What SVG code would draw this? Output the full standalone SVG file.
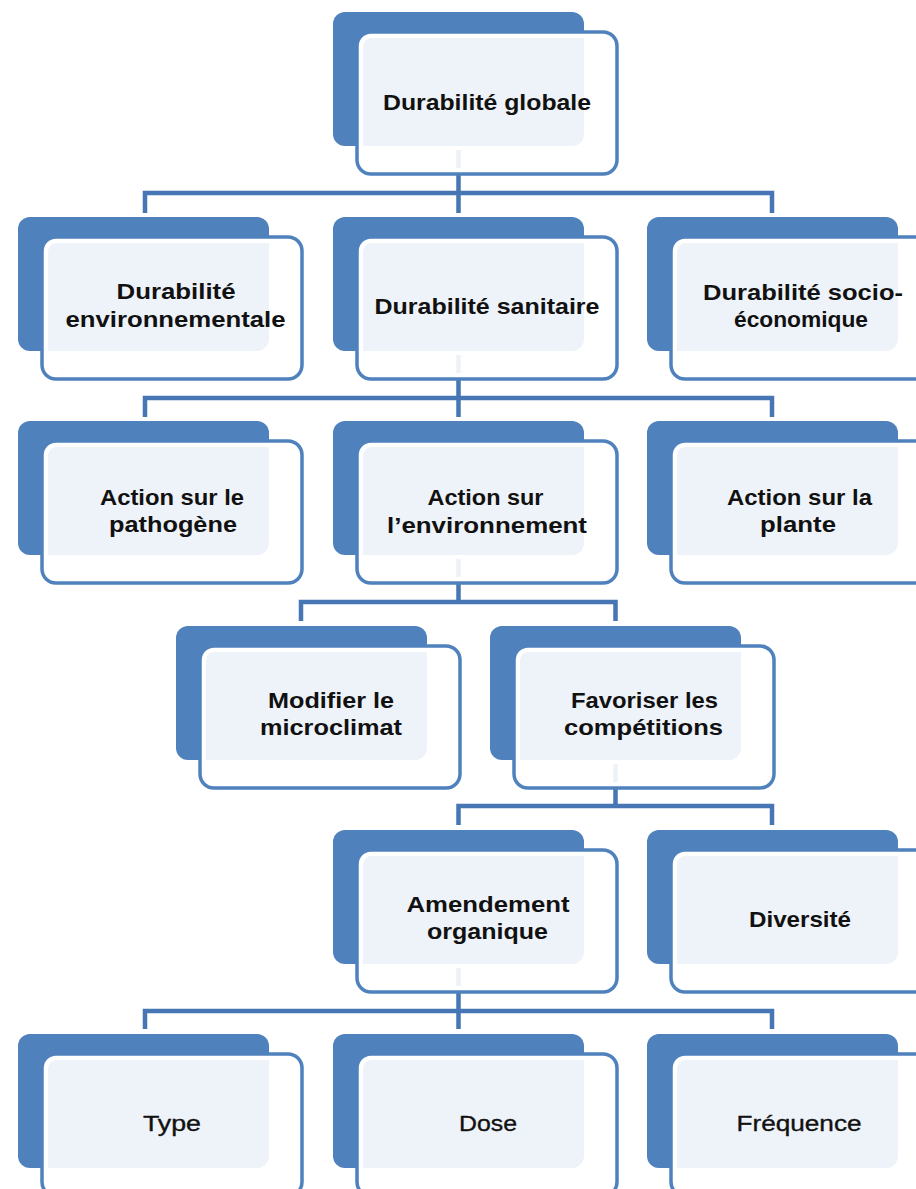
<svg xmlns="http://www.w3.org/2000/svg" xmlns:xlink="http://www.w3.org/1999/xlink" width="916" height="1189" viewBox="0 0 916 1189">
  <style>
    .back { fill: #4F81BD; }
    .front-fill { fill: #FFFFFF; fill-opacity: 0.9; }
    .front-band { fill: none; stroke: #FFFFFF; stroke-width: 5; }
    .front-edge { fill: none; stroke: #4F81BD; stroke-width: 3.5; }
    .link { fill: none; stroke: #4676B3; stroke-width: 4.5; stroke-linejoin: miter; }
    .label { font-family: "Liberation Sans", Arial, sans-serif; font-size: 22px; font-weight: bold; fill: #111111; text-anchor: middle; }
    .label.light { font-weight: normal; stroke: #111111; stroke-width: 0.35; }
  </style>
  <defs>
    <!-- shared node shapes: dark tab behind, translucent card in front -->
    <rect id="back" class="back" x="0" y="0" width="251" height="134" rx="12"/>
    <g id="front">
      <rect class="front-fill" x="24" y="20" width="260" height="142" rx="14"/>
      <rect class="front-band" x="27.5" y="23.5" width="253" height="135" rx="11"/>
      <rect class="front-edge" x="24" y="20" width="260" height="142" rx="14"/>
    </g>
  </defs>
  <rect width="916" height="1189" fill="#FFFFFF"/>

  <!-- connectors (drawn first so the cards veil their upper ends) -->
  <g id="connectors" class="link">
    <path d="M458.5 150 V193 M145 213 V193 H772 V213 M458.5 193 V213"/>
    <path d="M458.5 355 V398 M145 417 V398 H772 V417 M458.5 398 V417"/>
    <path d="M458.5 559 V602 M301 621 V602 H615.5 V621"/>
    <path d="M615.5 764 V806 M458.5 825 V806 H772 V825"/>
    <path d="M458.5 968 V1011 M145 1029 V1011 H772 V1029 M458.5 1011 V1029"/>
  </g>

  <!-- level 0 -->
  <g id="durabilite-globale" transform="translate(333,12)">
    <use xlink:href="#back"/><use xlink:href="#front"/>
    <text class="label" x="154" y="98" textLength="208" lengthAdjust="spacingAndGlyphs">Durabilité globale</text>
  </g>

  <!-- level 1 -->
  <g id="durabilite-environnementale" transform="translate(18,217)">
    <use xlink:href="#back"/><use xlink:href="#front"/>
    <text class="label" x="158" y="82" textLength="119" lengthAdjust="spacingAndGlyphs">Durabilité</text>
    <text class="label" x="157.5" y="110" textLength="220" lengthAdjust="spacingAndGlyphs">environnementale</text>
  </g>
  <g id="durabilite-sanitaire" transform="translate(333,217)">
    <use xlink:href="#back"/><use xlink:href="#front"/>
    <text class="label" x="154" y="97" textLength="225" lengthAdjust="spacingAndGlyphs">Durabilité sanitaire</text>
  </g>
  <g id="durabilite-socio-economique" transform="translate(647,217)">
    <use xlink:href="#back"/><use xlink:href="#front"/>
    <text class="label" x="156" y="83" textLength="200" lengthAdjust="spacingAndGlyphs">Durabilité socio-</text>
    <text class="label" x="154" y="110" textLength="134" lengthAdjust="spacingAndGlyphs">économique</text>
  </g>

  <!-- level 2 -->
  <g id="action-pathogene" transform="translate(18,421)">
    <use xlink:href="#back"/><use xlink:href="#front"/>
    <text class="label" x="154" y="84" textLength="144" lengthAdjust="spacingAndGlyphs">Action sur le</text>
    <text class="label" x="155" y="111" textLength="128" lengthAdjust="spacingAndGlyphs">pathogène</text>
  </g>
  <g id="action-environnement" transform="translate(333,421)">
    <use xlink:href="#back"/><use xlink:href="#front"/>
    <text class="label" x="152.5" y="84" textLength="116" lengthAdjust="spacingAndGlyphs">Action sur</text>
    <text class="label" x="154" y="112" textLength="200" lengthAdjust="spacingAndGlyphs">l’environnement</text>
  </g>
  <g id="action-plante" transform="translate(647,421)">
    <use xlink:href="#back"/><use xlink:href="#front"/>
    <text class="label" x="152.5" y="84" textLength="145" lengthAdjust="spacingAndGlyphs">Action sur la</text>
    <text class="label" x="151" y="111" textLength="76" lengthAdjust="spacingAndGlyphs">plante</text>
  </g>

  <!-- level 3 -->
  <g id="modifier-microclimat" transform="translate(176,626)">
    <use xlink:href="#back"/><use xlink:href="#front"/>
    <text class="label" x="155" y="82" textLength="126" lengthAdjust="spacingAndGlyphs">Modifier le</text>
    <text class="label" x="155" y="109" textLength="142" lengthAdjust="spacingAndGlyphs">microclimat</text>
  </g>
  <g id="favoriser-competitions" transform="translate(490,626)">
    <use xlink:href="#back"/><use xlink:href="#front"/>
    <text class="label" x="154.5" y="82" textLength="147" lengthAdjust="spacingAndGlyphs">Favoriser les</text>
    <text class="label" x="153.5" y="109" textLength="159" lengthAdjust="spacingAndGlyphs">compétitions</text>
  </g>

  <!-- level 4 -->
  <g id="amendement-organique" transform="translate(333,830)">
    <use xlink:href="#back"/><use xlink:href="#front"/>
    <text class="label" x="155" y="82" textLength="163" lengthAdjust="spacingAndGlyphs">Amendement</text>
    <text class="label" x="154.5" y="109" textLength="121" lengthAdjust="spacingAndGlyphs">organique</text>
  </g>
  <g id="diversite" transform="translate(647,830)">
    <use xlink:href="#back"/><use xlink:href="#front"/>
    <text class="label" x="153" y="97" textLength="102" lengthAdjust="spacingAndGlyphs">Diversité</text>
  </g>

  <!-- level 5 -->
  <g id="type" transform="translate(18,1034)">
    <use xlink:href="#back"/><use xlink:href="#front"/>
    <text class="label light" x="154" y="97" textLength="58" lengthAdjust="spacingAndGlyphs">Type</text>
  </g>
  <g id="dose" transform="translate(333,1034)">
    <use xlink:href="#back"/><use xlink:href="#front"/>
    <text class="label light" x="155" y="97" textLength="58" lengthAdjust="spacingAndGlyphs">Dose</text>
  </g>
  <g id="frequence" transform="translate(647,1034)">
    <use xlink:href="#back"/><use xlink:href="#front"/>
    <text class="label light" x="152" y="97" textLength="125" lengthAdjust="spacingAndGlyphs">Fréquence</text>
  </g>
</svg>
